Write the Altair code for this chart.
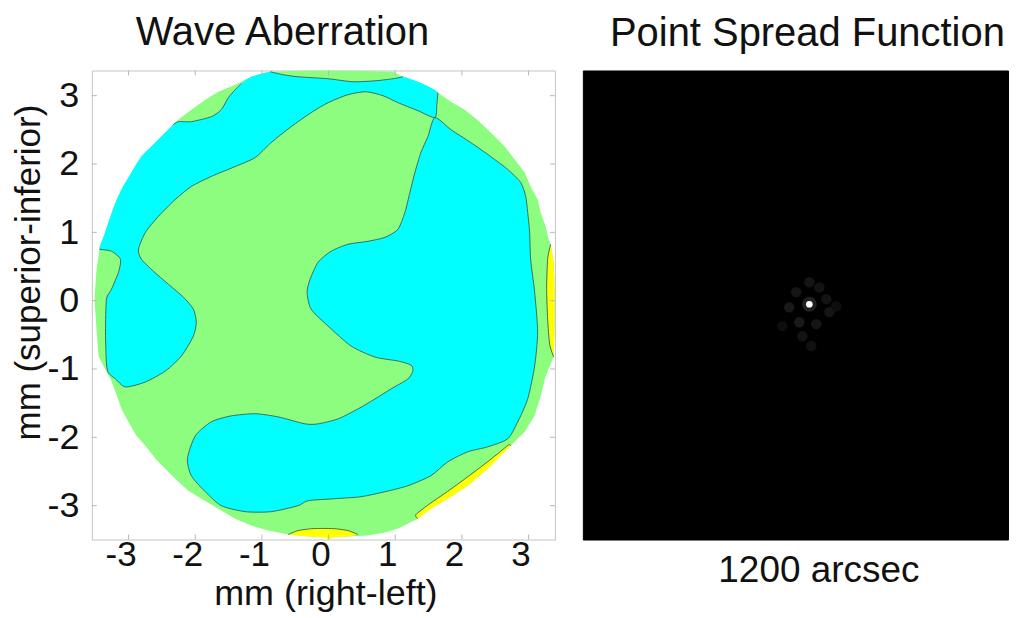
import altair as alt
import pandas as pd

# ---------------- data (mm) ----------------
TICKS = [-3, -2, -1, 0, 1, 2, 3]

# pupil edge (light-green disk)
DISK = [(-3.511, 0.022), (-3.481, 0.460), (-3.436, 0.752), (-3.361, 0.971), (-3.271, 1.234),
        (-3.196, 1.438), (-3.106, 1.628), (-2.957, 1.876), (-2.807, 2.109), (-2.597, 2.314),
        (-2.403, 2.504), (-2.253, 2.650), (-2.058, 2.796), (-1.849, 2.942), (-1.654, 3.058),
        (-1.400, 3.161), (-1.160, 3.277), (-0.876, 3.350), (-0.457, 3.365), (-0.007, 3.372),
        (0.442, 3.365), (0.966, 3.350), (1.115, 3.277), (1.340, 3.204), (1.534, 3.117),
        (1.684, 3.015), (1.834, 2.912), (2.043, 2.796), (2.193, 2.679), (2.343, 2.547),
        (2.493, 2.401), (2.642, 2.255), (2.792, 2.066), (2.942, 1.876), (3.031, 1.672),
        (3.136, 1.482), (3.181, 1.292), (3.256, 1.088), (3.301, 0.898), (3.331, 0.825),
        (3.376, 0.577), (3.391, 0.168), (3.391, -0.416), (3.376, -0.825), (3.256, -1.102),
        (3.181, -1.394), (3.091, -1.686), (2.942, -1.920), (2.732, -2.124), (2.537, -2.314),
        (2.388, -2.460), (2.088, -2.708), (1.789, -2.898), (1.534, -3.044), (1.340, -3.190),
        (1.040, -3.336), (0.846, -3.394), (0.591, -3.438), (0.292, -3.453), (-0.007, -3.467),
        (-0.307, -3.453), (-0.606, -3.423), (-0.756, -3.394), (-0.906, -3.365), (-1.160, -3.292),
        (-1.400, -3.190), (-1.654, -3.044), (-1.909, -2.898), (-2.103, -2.781), (-2.253, -2.650),
        (-2.448, -2.460), (-2.597, -2.314), (-2.747, -2.124), (-2.882, -1.978), (-3.001, -1.774),
        (-3.106, -1.584), (-3.196, -1.336), (-3.271, -1.146), (-3.376, -0.956), (-3.451, -0.810),
        (-3.481, -0.416)]

# cyan region A (upper-left band + left lobe): pupil-edge pieces and contour pieces
A_EDGE1 = [(-3.436, 0.752), (-3.361, 0.971), (-3.271, 1.234), (-3.196, 1.438), (-3.106, 1.628),
           (-2.957, 1.876), (-2.807, 2.109), (-2.597, 2.314), (-2.403, 2.504), (-2.328, 2.577)]
A_LINE1 = [(-2.328, 2.577), (-2.253, 2.620), (-2.058, 2.620), (-1.759, 2.693), (-1.609, 2.796),
           (-1.504, 2.971), (-1.400, 3.088), (-1.310, 3.175)]
A_EDGE2 = [(-1.310, 3.175), (-1.160, 3.277), (-0.876, 3.350)]
A_LINE2 = [(-0.876, 3.350), (-0.681, 3.307), (-0.457, 3.277), (-0.007, 3.248), (0.367, 3.204),
           (0.711, 3.219), (0.966, 3.248), (1.115, 3.277)]
A_EDGE3 = [(1.115, 3.277), (1.340, 3.204), (1.534, 3.117), (1.639, 3.044)]
A_LINE3 = [(1.639, 3.044), (1.624, 2.869), (1.594, 2.679), (1.340, 2.781), (1.040, 2.898),
           (0.816, 3.000), (0.561, 3.058), (0.292, 3.015), (-0.007, 2.898), (-0.262, 2.752),
           (-0.561, 2.547), (-0.861, 2.314), (-1.100, 2.095), (-1.400, 1.964), (-1.759, 1.818),
           (-2.058, 1.672), (-2.298, 1.482), (-2.552, 1.234), (-2.747, 1.000), (-2.852, 0.752),
           (-2.807, 0.606), (-2.627, 0.431), (-2.403, 0.241), (-2.178, 0.051), (-2.028, -0.124),
           (-1.984, -0.314), (-2.028, -0.518), (-2.208, -0.810), (-2.448, -1.029), (-2.747, -1.190),
           (-3.046, -1.263), (-3.196, -1.146), (-3.301, -1.058), (-3.331, -0.927), (-3.346, -0.460),
           (-3.331, 0.022), (-3.256, 0.168), (-3.151, 0.416), (-3.121, 0.606), (-3.256, 0.723),
           (-3.436, 0.752)]

# cyan region B (central, closed contour)
B_LINE = [(1.594, 2.679), (1.834, 2.504), (2.133, 2.314), (2.433, 2.109), (2.687, 1.920),
          (2.882, 1.730), (2.957, 1.526), (2.987, 1.292), (3.016, 1.000), (3.031, 0.606),
          (3.091, 0.124), (3.136, -0.460), (3.091, -0.956), (2.987, -1.438), (2.837, -1.774),
          (2.687, -2.022), (2.388, -2.139), (2.088, -2.212), (1.789, -2.358), (1.534, -2.562),
          (1.190, -2.708), (0.846, -2.796), (0.487, -2.869), (0.097, -2.898), (-0.307, -2.927),
          (-0.457, -3.000), (-0.861, -3.088), (-1.250, -3.088), (-1.609, -3.000), (-1.849, -2.796),
          (-2.058, -2.562), (-2.118, -2.314), (-1.999, -1.978), (-1.759, -1.774), (-1.460, -1.686),
          (-1.100, -1.655), (-0.756, -1.701), (-0.352, -1.803), (-0.157, -1.803), (0.142, -1.730),
          (0.442, -1.584), (0.696, -1.438), (0.936, -1.292), (1.190, -1.146), (1.265, -1.029),
          (1.235, -0.942), (1.040, -0.883), (0.696, -0.825), (0.337, -0.664), (-0.007, -0.372),
          (-0.262, -0.124), (-0.322, 0.124), (-0.277, 0.314), (-0.157, 0.562), (0.037, 0.723),
          (0.292, 0.825), (0.591, 0.869), (0.846, 0.927), (1.040, 1.044), (1.145, 1.292),
          (1.220, 1.584), (1.295, 1.876), (1.385, 2.168), (1.490, 2.401)]

# yellow slivers
Y1_LINE = [(3.331, 0.825), (3.286, 0.606), (3.271, 0.168), (3.286, -0.270), (3.316, -0.635), (3.376, -0.825)]
Y1_EDGE = [(3.376, -0.825), (3.391, -0.416), (3.391, 0.168), (3.376, 0.577), (3.331, 0.825)]
Y2_EDGE = [(2.732, -2.124), (2.537, -2.314), (2.388, -2.460), (2.088, -2.708), (1.789, -2.898),
           (1.534, -3.044), (1.340, -3.190)]
Y2_LINE = [(1.340, -3.190), (1.310, -3.131), (1.519, -2.971), (1.759, -2.810), (2.028, -2.620),
           (2.328, -2.401), (2.537, -2.240), (2.702, -2.109), (2.732, -2.124)]
Y3_LINE = [(-0.606, -3.423), (-0.457, -3.365), (-0.232, -3.336), (0.067, -3.336), (0.292, -3.365), (0.442, -3.423)]
Y3_EDGE = [(0.442, -3.423), (0.292, -3.453), (0.052, -3.467), (0.007, -3.526), (-0.037, -3.467),
           (-0.307, -3.453), (-0.606, -3.423)]

# point spread function (arcsec) : speckle positions and intensities
PSF_X = [-13, 13, -47, 31, -65, 39, -39, 5, -31, -8, -83, 57]
PSF_Y = [58, 45, 33, 15, -6, -18, -44, -49, -80, -105, -54, -3]
PSF_I = [0.07, 0.06, 0.07, 0.06, 0.08, 0.07, 0.09, 0.07, 0.06, 0.05, 0.04, 0.04]
CORE_X = [-13]
CORE_Y = [2]

# ---------------- helpers ----------------
def seg_df(pts, key):
    return pd.DataFrame({"x": [p[0] for p in pts], "y": [p[1] for p in pts],
                         "k": key, "o": list(range(len(pts)))})


FONT = "Liberation Sans"
TXT = "#111111"
GREEN = "#8dfd7f"
CYAN = "#00ffff"
YELLOW = "#ffff00"
LINEC = "#3b5e52"
TICKC = "#b8b8b8"
W, H = 464, 470

XS = alt.Scale(domain=[-3.551, 3.395], nice=False, zero=False)
YS = alt.Scale(domain=[-3.496, 3.369], nice=False, zero=False)

x_axis = alt.Axis(values=TICKS, title="mm (right-left)", domain=False, ticks=False, grid=False,
                  labelExpr="'' + datum.value", labelFontSize=35, labelPadding=-2, labelOffset=-8,
                  labelFont=FONT, labelColor=TXT, titleFontSize=36, titleFont=FONT, titleColor=TXT,
                  titleFontWeight="normal", titleX=234, titleY=65, titleBaseline="alphabetic",
                  titleAlign="center", titleAngle=0)
y_axis = alt.Axis(values=TICKS, title="mm (superior-inferior)", domain=False, ticks=False, grid=False,
                  labelExpr="'' + datum.value", labelFontSize=36, labelPadding=13,
                  labelFont=FONT, labelColor=TXT, titleFontSize=35, titleFont=FONT, titleColor=TXT,
                  titleFontWeight="normal", titleX=-63, titleY=202, titleBaseline="middle",
                  titleAlign="center", titleAngle=270)

X = alt.X("x:Q", scale=XS, axis=x_axis)
Y = alt.Y("y:Q", scale=YS, axis=y_axis)

disk_df = seg_df(DISK, "disk")
a_df = seg_df(A_EDGE1 + A_LINE1[1:] + A_EDGE2[1:] + A_LINE2[1:] + A_EDGE3[1:] + A_LINE3[1:-1], "A")
b_df = seg_df(B_LINE, "B")
yel_df = pd.concat([seg_df(Y1_LINE + Y1_EDGE[1:-1], "Y1"),
                    seg_df(Y2_EDGE + Y2_LINE[1:-1], "Y2"),
                    seg_df(Y3_LINE + Y3_EDGE[1:-1], "Y3")])
lines_df = pd.concat([seg_df(A_LINE1, "L1"), seg_df(A_LINE2, "L2"), seg_df(A_LINE3, "L3"),
                      seg_df(Y1_LINE, "L4"), seg_df(Y2_LINE, "L5"), seg_df(Y3_LINE, "L6")])

enc = dict(x=X, y=Y, order="o:Q", detail="k:N")

disk = alt.Chart(disk_df).mark_line(fill=GREEN, strokeWidth=0, interpolate="linear-closed",
                                    clip=True).encode(**enc)
cyan_a = alt.Chart(a_df).mark_line(fill=CYAN, strokeWidth=0, interpolate="cardinal-closed",
                                   tension=0.3, clip=True).encode(**enc)
cyan_b = alt.Chart(b_df).mark_line(fill=CYAN, stroke=LINEC, strokeWidth=0.9,
                                   interpolate="cardinal-closed", tension=0.3,
                                   clip=True).encode(**enc)
yellow = alt.Chart(yel_df).mark_line(fill=YELLOW, strokeWidth=0, interpolate="linear-closed",
                                     clip=True).encode(**enc)
lines = alt.Chart(lines_df).mark_line(stroke=LINEC, strokeWidth=0.9, interpolate="cardinal",
                                      tension=0.3, clip=True).encode(**enc)

t_df = pd.DataFrame({"t": TICKS})
tick_b = alt.Chart(t_df).mark_rule(color=TICKC, strokeWidth=1).encode(
    x=alt.X("t:Q", scale=XS, axis=x_axis), y=alt.value(H), y2=alt.value(H - 5))
tick_t = alt.Chart(t_df).mark_rule(color=TICKC, strokeWidth=1).encode(
    x=alt.X("t:Q", scale=XS, axis=x_axis), y=alt.value(0), y2=alt.value(5))
tick_l = alt.Chart(t_df).mark_rule(color=TICKC, strokeWidth=1).encode(
    y=alt.Y("t:Q", scale=YS, axis=y_axis), x=alt.value(0), x2=alt.value(5))
tick_r = alt.Chart(t_df).mark_rule(color=TICKC, strokeWidth=1).encode(
    y=alt.Y("t:Q", scale=YS, axis=y_axis), x=alt.value(W), x2=alt.value(W - 5))

left = alt.layer(disk, cyan_a, cyan_b, yellow, lines, tick_b, tick_t, tick_l, tick_r).properties(
    width=W, height=H,
    title=alt.TitleParams("Wave Aberration", fontSize=40, font=FONT, fontWeight="normal",
                          color=TXT, anchor="middle", dx=-41, baseline="alphabetic", offset=-15),
    view=alt.ViewBackground(fill="white", stroke="#c4c4c4", strokeWidth=1),
)

# ---------------- PSF panel ----------------
PW = 426
PXS = alt.Scale(domain=[-600, 502], nice=False, zero=False)
PYS = alt.Scale(domain=[-600, 600], nice=False, zero=False)
psf_axis = alt.Axis(title="1200 arcsec", labels=False, ticks=False, domain=False, grid=False,
                    titleFontSize=37, titleFont=FONT, titleColor=TXT, titleFontWeight="normal",
                    titleX=236, titleY=42, titleBaseline="alphabetic", titleAlign="center",
                    titleAngle=0)
psf_df = pd.DataFrame({"x": PSF_X, "y": PSF_Y, "v": PSF_I})
core_df = pd.DataFrame({"x": CORE_X, "y": CORE_Y})

PX = alt.X("x:Q", scale=PXS, axis=psf_axis)
PY = alt.Y("y:Q", scale=PYS, axis=None)

speckles = alt.Chart(psf_df).mark_circle(size=110, opacity=1).encode(
    x=PX, y=PY,
    color=alt.Color("v:Q", scale=alt.Scale(domain=[0, 1], range=["#000000", "#ffffff"]), legend=None))
halo = alt.Chart(core_df).mark_circle(size=220, color="#ffffff", opacity=0.12).encode(x=PX, y=PY)
core = alt.Chart(core_df).mark_circle(size=45, color="#ffffff", opacity=1).encode(x=PX, y=PY)

right = alt.layer(speckles, halo, core).properties(
    width=PW, height=H,
    title=alt.TitleParams("Point Spread Function", fontSize=40, font=FONT, fontWeight="normal",
                          color=TXT, anchor="middle", dx=12, baseline="alphabetic", offset=-15),
    view=alt.ViewBackground(fill="black", stroke="black", strokeWidth=1),
)

chart = alt.hconcat(left, right, spacing=26).properties(
    padding={"left": 3, "top": 4, "right": 0, "bottom": 0}
).configure(font=FONT)

chart.save("out.html", embed_options={"renderer": "svg", "actions": False})
